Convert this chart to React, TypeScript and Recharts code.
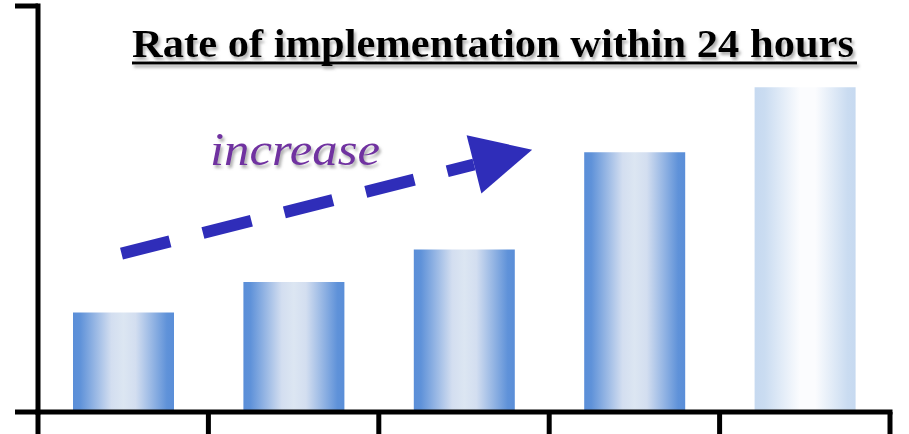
import { BarChart, Bar, Cell, XAxis, YAxis, ReferenceLine, Customized } from 'recharts';

// implementation rate (%) per stage
const STAGES = ['Stage 1', 'Stage 2', 'Stage 3', 'Stage 4', 'Stage 5'];
const RATES = [24.5, 32, 40, 64, 80];

// frame ticks: category boundaries along x, bottom/top along y
const SLOT_TICKS = [0, 1, 2, 3, 4, 5];
const RATE_TICKS = [0, 100];

// trend arrow, in (slot, rate) coordinates
const ARROW_FROM = { x: 0.49, y: 39 };
const ARROW_TO = { x: 2.9, y: 64.6 };

const TITLE = 'Rate of implementation within 24 hours';
const TREND_LABEL = 'increase';

// each stage sits in the middle of its slot on the frame axis
const data = STAGES.map((stage, i) => ({ stage, slot: i + 0.5, rate: RATES[i] }));

const AXIS = { stroke: '#000', strokeWidth: 5, strokeLinecap: 'square' as const };
const TICK = { stroke: '#000', strokeWidth: 5 };

const NoLabel = () => <g />;

function TrendArrow({ x1, y1, x2, y2 }: { x1?: number; y1?: number; x2?: number; y2?: number }) {
  if (x1 == null || y1 == null || x2 == null || y2 == null) return null;
  const len = Math.hypot(x2 - x1, y2 - y1);
  const ux = (x2 - x1) / len;
  const uy = (y2 - y1) / len;
  const headLen = 60;
  const halfW = 30;
  const bx = x2 - ux * headLen;
  const by = y2 - uy * headLen;
  const head = [
    [x2, y2],
    [bx - uy * halfW, by + ux * halfW],
    [bx + uy * halfW, by - ux * halfW],
  ]
    .map((p) => p.join(','))
    .join(' ');
  return (
    <g>
      <line x1={x1} y1={y1} x2={bx} y2={by} stroke="#2f2db9" strokeWidth={12} strokeDasharray="50 34" />
      <polygon points={head} fill="#2f2db9" />
    </g>
  );
}

function Notes() {
  return (
    <g>
      <g filter="url(#softShadow)">
        <text
          x={132}
          y={57}
          fontFamily="'Liberation Serif', 'Times New Roman', serif"
          fontWeight="bold"
          fontSize={39}
          textLength={722}
          lengthAdjust="spacingAndGlyphs"
          fill="#000"
        >
          {TITLE}
        </text>
        <rect x={132} y={61.5} width={725} height={3} fill="#000" />
      </g>
      <text
        x={210}
        y={165}
        filter="url(#softShadow)"
        fontFamily="'Liberation Serif', 'Times New Roman', serif"
        fontStyle="italic"
        fontSize={46}
        textLength={170}
        lengthAdjust="spacingAndGlyphs"
        fill="#7030a0"
      >
        {TREND_LABEL}
      </text>
    </g>
  );
}

export default function App() {
  return (
    <div style={{ position: 'absolute', left: 0, top: 0, width: 909, height: 434, background: '#fff' }}>
      <BarChart width={909} height={434} data={data} margin={{ top: 6, right: 19, bottom: 0, left: 0 }}>
        <defs>
          <linearGradient id="barBlue" x1="0" y1="0" x2="1" y2="0">
            <stop offset="0" stopColor="#5a8ed8" />
            <stop offset="0.07" stopColor="#5f92d9" />
            <stop offset="0.38" stopColor="#d3def0" />
            <stop offset="0.5" stopColor="#dce6f2" />
            <stop offset="0.62" stopColor="#d3def0" />
            <stop offset="0.93" stopColor="#5f92d9" />
            <stop offset="1" stopColor="#5a8ed8" />
          </linearGradient>
          <linearGradient id="barPale" x1="0" y1="0" x2="1" y2="0">
            <stop offset="0" stopColor="#c6d9f0" />
            <stop offset="0.1" stopColor="#cadcf1" />
            <stop offset="0.45" stopColor="#fbfcfe" />
            <stop offset="0.6" stopColor="#fbfcfe" />
            <stop offset="0.92" stopColor="#cadcf1" />
            <stop offset="1" stopColor="#c6d9f0" />
          </linearGradient>
          <filter id="softShadow" x="-5%" y="-20%" width="110%" height="160%">
            <feDropShadow dx="2" dy="3" stdDeviation="1.5" floodColor="#777" floodOpacity="0.6" />
          </filter>
        </defs>
        <XAxis
          xAxisId="slot"
          dataKey="slot"
          type="number"
          domain={[0, 5]}
          ticks={SLOT_TICKS}
          allowDataOverflow
          tick={NoLabel}
          tickSize={22}
          height={22}
          axisLine={AXIS}
          tickLine={TICK}
        />
        <XAxis xAxisId="cat" dataKey="stage" hide height={0} />
        <YAxis
          domain={[0, 100]}
          ticks={RATE_TICKS}
          tick={NoLabel}
          tickSize={23}
          width={38}
          axisLine={AXIS}
          tickLine={TICK}
        />
        <Bar dataKey="rate" xAxisId="cat" barSize={101} isAnimationActive={false}>
          {data.map((d, i) => (
            <Cell key={d.stage} fill={i === data.length - 1 ? 'url(#barPale)' : 'url(#barBlue)'} />
          ))}
        </Bar>
        <ReferenceLine
          xAxisId="slot"
          segment={[ARROW_FROM, ARROW_TO]}
          ifOverflow="visible"
          shape={(p: any) => <TrendArrow {...p} />}
        />
        <Customized component={Notes} />
      </BarChart>
    </div>
  );
}
